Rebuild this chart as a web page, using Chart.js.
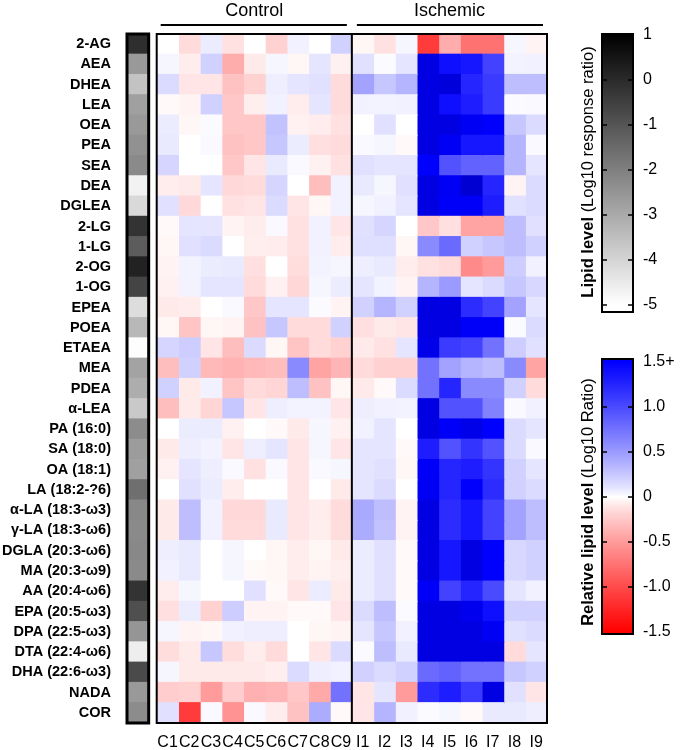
<!DOCTYPE html>
<html><head><meta charset="utf-8">
<script src="https://cdn.jsdelivr.net/npm/chart.js@4"></script>
<style>html,body{margin:0;padding:0;background:#fff}</style>
</head><body>
<canvas id="c" width="682" height="750"></canvas>
<script>
const lipids = ['2-AG','AEA','DHEA','LEA','OEA','PEA','SEA','DEA','DGLEA','2-LG','1-LG','2-OG','1-OG','EPEA','POEA','ETAEA','MEA','PDEA','α-LEA','PA (16:0)','SA (18:0)','OA (18:1)','LA (18:2-?6)','α-LA (18:3-ω3)','γ-LA (18:3-ω6)','DGLA (20:3-ω6)','MA (20:3-ω9)','AA (20:4-ω6)','EPA (20:5-ω3)','DPA (22:5-ω3)','DTA (22:4-ω6)','DHA (22:6-ω3)','NADA','COR'];
const controlLabels = ['C1','C2','C3','C4','C5','C6','C7','C8','C9'];
const ischemicLabels = ['I1','I2','I3','I4','I5','I6','I7','I8','I9'];
// Lipid level (Log10 response ratio), one per lipid
const lipidLevel = [-0.08,-2.6,-3.6,-2.76,-2.6,-2.4,-2.25,-4.7,-4.1,-0.2,-1.16,0.2,-0.6,-4.2,-3.33,-4.95,-2.84,-3.07,-3.73,-2.3,-2.67,-2.76,-1.6,-2.2,-2.25,-2.2,-2.25,-0.2,-0.86,-2.5,-4.6,-0.74,-2.6,-2.3];
// Relative lipid level (Log10 Ratio), rows = lipids, columns = C1..C9
const controlValues = [
 [0,-0.15,0.07,-0.12,0,-0.2,0.05,0,0.2],
 [0.03,-0.07,0.2,-0.4,-0.08,0.03,-0.03,0.1,-0.05],
 [0.15,-0.1,-0.1,-0.28,-0.2,0.06,0.1,0.12,-0.15],
 [-0.02,-0.04,0.2,-0.25,-0.06,0.05,-0.07,0.1,-0.15],
 [0.07,-0.03,0.01,-0.25,-0.25,0.28,-0.05,-0.07,-0.12],
 [0.08,0,0.02,-0.28,-0.25,0.25,0.07,-0.13,-0.15],
 [0.18,0,0,-0.25,-0.1,0.08,0.02,-0.05,-0.12],
 [-0.07,-0.08,0.1,-0.16,-0.15,0.18,0,-0.3,0.05],
 [0.12,-0.16,0,-0.12,-0.1,0.15,-0.1,-0.03,0.05],
 [-0.02,0.1,0.1,-0.04,-0.07,0.02,-0.12,0.05,-0.1],
 [-0.03,0.12,0.15,0,-0.06,-0.07,-0.12,0.05,-0.07],
 [-0.04,0.04,0.07,0.08,-0.13,0,-0.14,0.04,0.03],
 [-0.05,0.04,0.1,0.1,-0.15,-0.05,-0.17,0.03,0.07],
 [-0.08,-0.07,0,0.02,-0.25,0.1,0.1,0.01,-0.04],
 [-0.03,-0.27,-0.03,-0.04,-0.28,0.25,-0.15,-0.15,0.2],
 [0.18,0.22,-0.1,-0.3,0.15,-0.03,-0.27,-0.15,-0.2],
 [-0.3,0.2,-0.33,-0.36,-0.33,-0.3,0.6,-0.45,-0.35],
 [0.2,-0.08,0.05,-0.27,-0.15,-0.18,0.3,-0.28,-0.03],
 [-0.3,-0.08,-0.18,0.25,-0.1,0.06,0.04,0.04,-0.1],
 [0,0.07,0.07,-0.05,0,-0.02,-0.08,0.03,-0.05],
 [-0.08,0.06,0.04,-0.1,0.06,0.1,-0.1,0.03,-0.1],
 [-0.05,0.1,0.06,0.02,-0.12,0.02,-0.1,0.02,0.03],
 [0,0.12,0.07,-0.07,0,0,-0.1,0,-0.08],
 [-0.08,0.3,0.05,-0.16,-0.16,0.08,-0.1,-0.07,-0.15],
 [-0.08,0.3,0.05,-0.15,-0.15,0.08,-0.1,-0.06,-0.14],
 [0.06,0.08,0,0.03,0,-0.03,-0.07,-0.03,-0.08],
 [0.05,0.08,0,0.03,-0.02,-0.03,-0.07,-0.04,-0.06],
 [-0.07,0.03,0,0,0.12,-0.02,-0.1,0.07,-0.08],
 [-0.13,0.07,-0.2,0.22,-0.04,-0.04,-0.02,-0.02,-0.1],
 [0.03,-0.04,-0.03,0.05,0.06,0.06,0,-0.03,-0.04],
 [-0.14,-0.08,0.25,-0.14,-0.07,-0.15,0,-0.1,0.15],
 [0.03,-0.08,-0.08,-0.08,-0.08,-0.06,0.15,0.06,0.05],
 [-0.22,-0.2,-0.5,-0.22,-0.38,-0.35,-0.25,-0.42,0.75],
 [0.12,-1.1,0.02,-0.55,0.02,-0.07,-0.28,0.4,-0.02]
];
// rows = lipids, columns = I1..I9
const ischemicValues = [
 [-0.03,-0.12,0.03,-1.1,-0.4,-0.75,-0.75,0.03,-0.04],
 [0.12,0.01,0.1,2.0,1.4,1.35,1.05,0.04,0.05],
 [0.45,0.25,0.35,2.0,2.1,1.25,1.1,0.3,0.3],
 [0.05,0.04,0.05,2.0,1.4,1.3,1.1,0.01,0.02],
 [0,0.12,0,2.0,2.0,1.7,1.55,0.25,0.15],
 [0.02,0.03,-0.02,2.0,1.7,1.35,1.35,0.35,0.02],
 [0.12,0.1,0.1,1.5,0.95,0.85,0.85,0.35,0.1],
 [0.08,0.03,0.12,2.0,1.7,2.3,1.25,-0.04,0.15],
 [0.03,0.05,0.1,2.0,1.6,1.6,1.3,0.12,0.15],
 [0.12,0.18,0,-0.25,-0.13,-0.45,-0.45,0.3,0.12],
 [0.13,0.13,-0.03,0.6,0.8,0.2,0.25,0.3,0.2],
 [0.06,0.08,-0.07,-0.12,-0.15,-0.6,-0.5,0.22,0.05],
 [0.1,0.04,-0.04,0.35,0.5,0.1,0.15,0.25,0.17],
 [0.2,0.35,0.2,2.0,2.0,1.2,1.05,0.45,0.1],
 [-0.13,-0.08,-0.1,2.0,2.0,1.6,1.6,0.01,0.15],
 [-0.08,-0.12,0.1,1.9,1.1,1.05,0.75,0.22,0.12],
 [-0.15,-0.2,-0.2,0.75,0.45,0.35,0.3,0.6,-0.45],
 [-0.08,-0.02,0.15,0.75,1.25,0.6,0.6,0.2,-0.15],
 [0.06,0.05,0.04,2.0,0.95,0.95,0.65,0.02,0.05],
 [0.05,0.1,0,2.0,1.6,1.9,1.5,0.15,0.1],
 [0.1,0.1,-0.02,1.3,0.95,1.15,0.95,0.15,0.02],
 [0.1,0.12,-0.03,1.6,1.25,1.3,1.15,0.2,0.1],
 [0.1,0.15,0,1.7,1.25,1.55,1.2,0.2,0.15],
 [0.42,0.3,-0.04,2.0,1.2,1.35,1.05,0.45,0.3],
 [0.4,0.28,-0.04,2.0,1.2,1.35,1.05,0.45,0.3],
 [0.07,0.12,-0.02,2.0,1.35,2.0,1.5,0.17,0.2],
 [0.07,0.12,-0.02,2.0,1.35,2.0,1.5,0.17,0.2],
 [0.07,0.12,-0.02,1.6,1.05,1.25,1.0,0.1,0.05],
 [0.15,0.3,0.01,2.0,2.0,1.8,1.4,0.2,0.2],
 [0.1,0.25,0.05,2.0,2.0,2.0,1.7,0.12,0.15],
 [0.01,0.3,0.08,2.0,2.0,2.0,2.0,-0.15,0.1],
 [0.2,0.15,0.2,0.8,0.85,0.75,0.75,0.25,0.2],
 [-0.1,0.1,-0.5,1.2,1.3,1.1,2.0,0.12,-0.1],
 [-0.1,0.35,0.05,0.01,0.03,-0.02,0.08,0.08,0.06]
];
const grayTicks = [1,0,-1,-2,-3,-4,-5];
const ratioTicks = [1.5,1.0,0.5,0,-0.5,-1.0,-1.5];
const ratioTickLabels = ['1.5+','1.0','0.5','0','-0.5','-1.0','-1.5'];

const FONT = '"Liberation Sans", Arial, Helvetica, sans-serif';
const GAP = 0.37;
const columns = controlLabels.concat(ischemicLabels);

function ratioColor(v){
  if (v >= 0){
    if (v <= 1.5){ const t = Math.pow(v/1.5, 0.85); const c = Math.round(255*(1 - t)); return `rgb(${c},${c},255)`; }
    const t = Math.min((v-1.5)/0.8, 1); return `rgb(0,0,${Math.round(255-45*t)})`;
  }
  const t = Math.pow(Math.min(-v/1.5, 1), 0.85);
  const c = Math.round(255*(1 - t)); return `rgb(255,${c},${c})`;
}
function levelGray(v){
  const g = Math.round(255*Math.max(0, Math.min(1, (1 - v)/6)));
  return `rgb(${g},${g},${g})`;
}

const datasets = [{
  label: 'Lipid level',
  data: lipids.map(() => [-1 - GAP, -GAP]),
  backgroundColor: lipidLevel.map(levelGray)
}];
columns.forEach((lab, j) => {
  const src = j < controlLabels.length ? controlValues : ischemicValues;
  const k = j % controlLabels.length;
  datasets.push({
    label: lab,
    data: lipids.map(() => [j, j + 1]),
    backgroundColor: lipids.map((_, r) => ratioColor(src[r][k]))
  });
});

function drawMixed(ctx, parts, cx, cy){
  let total = 0;
  parts.forEach(p => { ctx.font = p.font; p.w = ctx.measureText(p.text).width; total += p.w; });
  let x = cx - total/2;
  ctx.textAlign = 'left'; ctx.textBaseline = 'middle';
  parts.forEach(p => { ctx.font = p.font; ctx.fillText(p.text, x, cy); x += p.w; });
}

const decor = {
  id: 'decor',
  afterDatasetsDraw(chart){
    const {ctx, chartArea: a, scales: {x}} = chart;
    ctx.save();
    ctx.strokeStyle = '#000'; ctx.fillStyle = '#000';
    const x0 = x.getPixelForValue(0), x9 = x.getPixelForValue(controlLabels.length), x18 = x.getPixelForValue(columns.length);
    ctx.lineWidth = 2;
    ctx.strokeRect(x0, a.top, x18 - x0, a.bottom - a.top);
    ctx.beginPath(); ctx.moveTo(x9, a.top); ctx.lineTo(x9, a.bottom); ctx.stroke();
    const g0 = x.getPixelForValue(-1 - GAP), g1 = x.getPixelForValue(-GAP);
    ctx.lineWidth = 3;
    ctx.strokeRect(g0, a.top, g1 - g0, a.bottom - a.top);
    // group headers
    ctx.font = `18px ${FONT}`; ctx.textAlign = 'center'; ctx.textBaseline = 'middle';
    ctx.fillText('Control', (x0 + x9)/2, 11);
    ctx.fillText('Ischemic', (x9 + x18)/2, 11);
    ctx.lineWidth = 2;
    ctx.beginPath();
    ctx.moveTo(x0 + 4, 25); ctx.lineTo(x9 - 5, 25);
    ctx.moveTo(x9 + 5, 25); ctx.lineTo(x18 - 4, 25);
    ctx.stroke();

    // colour bars
    const bx = 602, bw = 31;
    // gray bar
    const gy = v => 35 + (1 - v)*45;
    const gTop = 34, gBot = 312;
    let grad = ctx.createLinearGradient(0, gy(1), 0, gy(-5));
    grad.addColorStop(0, levelGray(1)); grad.addColorStop(1, levelGray(-5));
    ctx.fillStyle = grad; ctx.fillRect(bx, gTop, bw, gBot - gTop);
    ctx.lineWidth = 2; ctx.strokeRect(bx, gTop, bw, gBot - gTop);
    ctx.lineWidth = 1.5;
    ctx.beginPath();
    grayTicks.slice(1).forEach(v => {
      const y = gy(v);
      ctx.moveTo(bx, y); ctx.lineTo(bx + 5, y);
      ctx.moveTo(bx + bw - 5, y); ctx.lineTo(bx + bw, y);
    });
    ctx.stroke();
    ctx.fillStyle = '#000';
    ctx.font = `16px ${FONT}`; ctx.textAlign = 'left'; ctx.textBaseline = 'middle';
    grayTicks.forEach(v => ctx.fillText(String(v), 643, gy(v)));

    // ratio bar
    const ry = v => 362 + (1.5 - v)*90;
    const rTop = 359, rBot = 634;
    grad = ctx.createLinearGradient(0, ry(1.5), 0, ry(-1.5));
    const steps = 30;
    for (let i = 0; i <= steps; i++){
      const v = 1.5 - 3*i/steps;
      grad.addColorStop(i/steps, ratioColor(v));
    }
    ctx.fillStyle = grad; ctx.fillRect(bx, rTop, bw, rBot - rTop);
    ctx.lineWidth = 2; ctx.strokeRect(bx, rTop, bw, rBot - rTop);
    ctx.lineWidth = 1.5;
    ctx.beginPath();
    ratioTicks.slice(1, -1).forEach(v => {
      const y = ry(v);
      ctx.moveTo(bx, y); ctx.lineTo(bx + 5, y);
      ctx.moveTo(bx + bw - 5, y); ctx.lineTo(bx + bw, y);
    });
    ctx.stroke();
    ctx.fillStyle = '#000';
    ctx.font = `16px ${FONT}`; ctx.textAlign = 'left'; ctx.textBaseline = 'middle';
    ratioTicks.forEach((v, i) => ctx.fillText(ratioTickLabels[i], 643, ry(v)));

    // rotated titles
    ctx.save(); ctx.translate(588, 172); ctx.rotate(-Math.PI/2);
    drawMixed(ctx, [{text:'Lipid level', font:`bold 16.5px ${FONT}`}, {text:' (Log10 response ratio)', font:`16.5px ${FONT}`}], 0, 0);
    ctx.restore();
    ctx.save(); ctx.translate(588, 502); ctx.rotate(-Math.PI/2);
    drawMixed(ctx, [{text:'Relative lipid level', font:`bold 16.5px ${FONT}`}, {text:' (Log10 Ratio)', font:`16.5px ${FONT}`}], 0, 0);
    ctx.restore();
    ctx.restore();
  }
};

new Chart(document.getElementById('c'), {
  type: 'bar',
  data: { labels: lipids, datasets },
  plugins: [decor],
  options: {
    responsive: false, animation: false, indexAxis: 'y',
    layout: { padding: { top: 34, right: 135, bottom: 0, left: 0 } },
    plugins: { legend: { display: false }, tooltip: { enabled: false } },
    datasets: { bar: { grouped: false, barPercentage: 1, categoryPercentage: 1, borderWidth: 0, inflateAmount: 0.6 } },
    scales: {
      x: {
        type: 'linear', min: -1 - GAP, max: columns.length,
        grid: { display: false }, border: { display: false },
        afterBuildTicks: s => { s.ticks = columns.map((_, j) => ({ value: j + 0.5 })); },
        afterFit: s => { s.height = 27; },
        ticks: { autoSkip: false, maxRotation: 0, padding: 2, color: '#000',
          font: { family: FONT, size: 16 }, callback: (v, i) => columns[i] }
      },
      y: {
        type: 'category', grid: { display: false }, border: { display: false },
        afterFit: s => { s.width = 127; },
        ticks: { autoSkip: false, padding: 8, color: '#000', font: { family: FONT, size: 14.5, weight: 'bold' } }
      }
    }
  }
});
</script>
</body></html>
